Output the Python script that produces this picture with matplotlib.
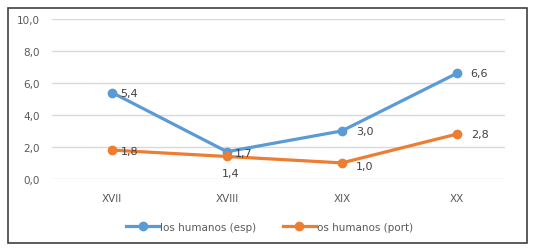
import numpy as np
import matplotlib.pyplot as plt
from matplotlib.patches import Rectangle

siglos = ["XVII", "XVIII", "XIX", "XX"]
esp = [5.4, 1.7, 3.0, 6.6]
port = [1.8, 1.4, 1.0, 2.8]

azul = "#5B9BD5"
naranja = "#ED7D31"
gris = "#595959"


def fmt(v):
    return ("%.1f" % v).replace(".", ",")


fig = plt.figure(figsize=(5.39, 2.53), dpi=100)
fig.patches.append(Rectangle((8 / 539, 9 / 253), 519 / 539, 235 / 253,
                             transform=fig.transFigure, fill=False,
                             edgecolor="#404040", linewidth=1.2))

ax = fig.add_axes([0.097, 0.289, 0.84, 0.632])
x = np.arange(len(siglos))

ax.plot(x, esp, color=azul, linewidth=2.3, marker="o", markersize=6,
        label="los humanos (esp)", zorder=3)
ax.plot(x, port, color=naranja, linewidth=2.3, marker="o", markersize=6,
        label="os humanos (port)", zorder=3)

# etiquetas de datos
offs_esp = [(6, 0), (6, -1), (10, 0), (10, 0)]
for i, v in enumerate(esp):
    ax.annotate(fmt(v), (x[i], v), xytext=offs_esp[i], textcoords="offset points",
                ha="left", va="center", fontsize=8, color="#404040")
offs_port = [(6, -1), (-4, -12), (10, -2), (10, 0)]
for i, v in enumerate(port):
    ax.annotate(fmt(v), (x[i], v), xytext=offs_port[i], textcoords="offset points",
                ha="left", va="center", fontsize=8, color="#404040")

ax.set_ylim(0, 10)
ax.set_yticks(np.arange(0, 10.1, 2))
ax.set_yticklabels([fmt(v) for v in np.arange(0, 10.1, 2)])
ax.set_xlim(-0.52, 3.42)
ax.set_xticks(x)
ax.set_xticklabels(siglos)
ax.tick_params(axis="both", length=0, labelsize=7.5, colors=gris)
ax.tick_params(axis="x", pad=10)
ax.tick_params(axis="y", pad=9)
ax.grid(axis="y", color="#D9D9D9", linewidth=1)
ax.set_axisbelow(True)
for s in ax.spines.values():
    s.set_visible(False)

fig.legend(loc="center", bbox_to_anchor=(0.5, 0.1), ncol=2, frameon=False,
           fontsize=7.5, labelcolor=gris, handlelength=3.2, handletextpad=0.1,
           columnspacing=2.5)

fig.savefig("out.png", dpi=100)
